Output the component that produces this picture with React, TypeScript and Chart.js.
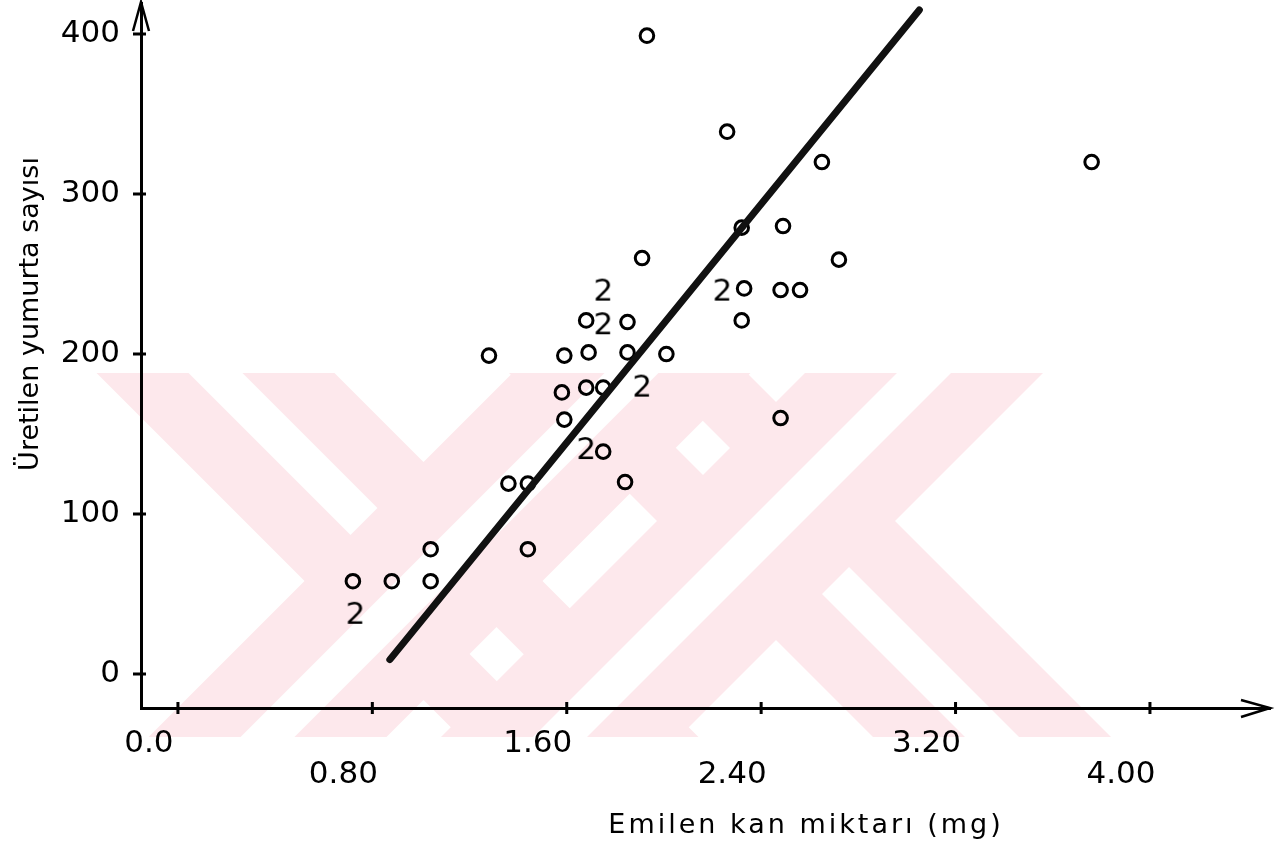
import React, { useEffect, useRef } from "react";
import { Chart, registerables } from "chart.js";

Chart.register(...registerables);

const FONT = "'DejaVu Sans', 'Noto Sans', sans-serif";

// axis ticks
const xTickValues = [0, 0.8, 1.6, 2.4, 3.2, 4.0];
const xTickLabels = ["0.0", "0.80", "1.60", "2.40", "3.20", "4.00"];
const yTickValues = [0, 100, 200, 300, 400];
const yTickLabels = ["0", "100", "200", "300", "400"];

// axis titles
const xTitle = "Emilen kan miktarı (mg)";
const yTitle = "Üretilen yumurta sayısı";

// single observations (drawn as open circles)
const singleX = [0.72, 0.88, 1.04, 1.04, 1.44, 1.36, 1.44, 1.84, 1.75, 1.59, 1.58, 1.68, 1.75, 1.28, 1.59, 1.69, 1.85, 2.01, 1.68, 1.85, 1.91, 1.93, 2.26, 2.65, 3.76, 2.32, 2.49, 2.72, 2.33, 2.48, 2.56, 2.32, 2.48];
const singleY = [58, 58, 78, 58, 78, 119, 119, 120, 139, 159, 176, 179, 179, 199, 199, 201, 201, 200, 221, 220, 260, 399, 339, 320, 320, 279, 280, 259, 241, 240, 240, 221, 160];

// double observations (drawn as the digit "2")
const doubleX = [0.73, 1.75, 1.75, 1.91, 1.68, 2.24];
const doubleY = [37, 239, 218, 179, 140, 239];

// fitted regression line end points
const fitX = [0.872, 3.051];
const fitY = [9, 415];

function makeTwoGlyph(): HTMLCanvasElement {
  const c = document.createElement("canvas");
  c.width = 26;
  c.height = 32;
  const g = c.getContext("2d")!;
  g.fillStyle = "#000";
  g.font = `31px ${FONT}`;
  g.textAlign = "center";
  g.textBaseline = "middle";
  g.fillText("2", 13, 17);
  return c;
}

// faint background watermark (two crossed double bands)
const watermarkPlugin = {
  id: "watermark",
  beforeDraw(chart: any) {
    const ctx = chart.ctx;
    const top = 373;
    const bot = 737;
    const centers = [
      [423.5, 581],
      [776, 521],
    ];
    const band = (cx: number, cy: number, k: number, h: number, color: string) => {
      const xt = cx + k * (top - cy);
      const xb = cx + k * (bot - cy);
      ctx.fillStyle = color;
      ctx.beginPath();
      ctx.moveTo(xt - h, top);
      ctx.lineTo(xt + h, top);
      ctx.lineTo(xb + h, bot);
      ctx.lineTo(xb - h, bot);
      ctx.closePath();
      ctx.fill();
    };
    ctx.save();
    ctx.beginPath();
    ctx.rect(0, top, chart.width, bot - top);
    ctx.clip();
    for (const k of [1, -1]) {
      for (const [cx, cy] of centers) {
        band(cx, cy, k, 119, "#fde8ec");
        band(cx, cy, k, 27, "#ffffff");
      }
    }
    ctx.restore();
  },
};

const decorPlugin = {
  id: "decor",
  afterDraw(chart: any) {
    const { ctx, chartArea: a, scales } = chart;
    const xs = scales.x;
    const ys = scales.y;
    ctx.save();
    ctx.strokeStyle = "#000";
    ctx.lineWidth = 3;
    ctx.beginPath();
    xTickValues.forEach((v) => {
      const p = xs.getPixelForValue(v);
      ctx.moveTo(p, a.bottom - 6);
      ctx.lineTo(p, a.bottom + 6);
    });
    yTickValues.forEach((v) => {
      const p = ys.getPixelForValue(v);
      ctx.moveTo(a.left - 8, p);
      ctx.lineTo(a.left + 5, p);
    });
    ctx.stroke();

    ctx.lineWidth = 2.5;
    ctx.lineJoin = "miter";
    ctx.beginPath();
    ctx.moveTo(a.left - 8, a.top + 28);
    ctx.lineTo(a.left, a.top - 1);
    ctx.lineTo(a.left + 8, a.top + 28);
    ctx.moveTo(a.right - 29, a.bottom - 8);
    ctx.lineTo(a.right, a.bottom);
    ctx.lineTo(a.right - 29, a.bottom + 9);
    ctx.stroke();

    ctx.fillStyle = "#000";
    ctx.textAlign = "center";
    ctx.textBaseline = "middle";
    ctx.font = `27px ${FONT}`;
    (ctx as any).letterSpacing = "3px";
    ctx.fillText(xTitle, 806, 826);
    (ctx as any).letterSpacing = "0px";
    ctx.translate(31, 314);
    ctx.rotate(-Math.PI / 2);
    ctx.fillText(yTitle, 0, 0);
    ctx.restore();
  },
};

export default function App() {
  const ref = useRef<HTMLCanvasElement | null>(null);

  useEffect(() => {
    if (!ref.current) return;
    const two = makeTwoGlyph();
    const singles = singleX.map((x, i) => ({ x, y: singleY[i] }));
    const doubles = doubleX.map((x, i) => ({ x, y: doubleY[i] }));
    const fit = fitX.map((x, i) => ({ x, y: fitY[i] }));

    const chart = new Chart(ref.current, {
      type: "scatter",
      data: {
        datasets: [
          {
            type: "line",
            label: "fit",
            data: fit,
            showLine: true,
            borderColor: "#111",
            borderWidth: 7,
            borderCapStyle: "round",
            pointRadius: 0,
            fill: false,
          } as any,
          {
            label: "single",
            data: singles,
            pointStyle: "circle",
            pointRadius: 6.8,
            borderWidth: 3,
            borderColor: "#000",
            backgroundColor: "rgba(0,0,0,0)",
          },
          {
            label: "double",
            data: doubles,
            pointStyle: two as any,
            pointRadius: 10,
          },
        ],
      },
      options: {
        animation: false,
        responsive: true,
        maintainAspectRatio: false,
        layout: { autoPadding: false, padding: { top: 3, right: 12, left: 0, bottom: 0 } },
        plugins: { legend: { display: false }, tooltip: { enabled: false } },
        scales: {
          x: {
            type: "linear",
            min: -0.152,
            max: 4.494,
            afterBuildTicks: (s: any) => {
              s.ticks = xTickValues.map((v) => ({ value: v }));
            },
            afterFit: (s: any) => {
              s.height = 142;
              s.paddingLeft = 0;
              s.paddingRight = 0;
            },
            ticks: {
              autoSkip: false,
              maxRotation: 0,
              minRotation: 0,
              labelOffset: -29,
              padding: 20,
              color: "#000",
              font: { family: FONT, size: 31, lineHeight: 1 },
              callback: (_v: any, i: number) =>
                i % 2 === 0 ? [xTickLabels[i]] : ["", xTickLabels[i]],
            },
            grid: { display: true, drawOnChartArea: false, drawTicks: false },
            border: { display: true, color: "#000", width: 3 },
          },
          y: {
            type: "linear",
            min: -21.25,
            max: 419.4,
            afterBuildTicks: (s: any) => {
              s.ticks = yTickValues.map((v) => ({ value: v }));
            },
            afterFit: (s: any) => {
              s.width = 141;
              s.paddingTop = 0;
              s.paddingBottom = 0;
            },
            ticks: {
              padding: 21,
              color: "#000",
              font: { family: FONT, size: 31, lineHeight: 1 },
              callback: (_v: any, i: number) => yTickLabels[i],
            },
            grid: { display: true, drawOnChartArea: false, drawTicks: false },
            border: { display: true, color: "#000", width: 3 },
          },
        },
      },
      plugins: [watermarkPlugin, decorPlugin],
    });
    return () => chart.destroy();
  }, []);

  return (
    <div style={{ position: "absolute", left: 0, top: 0, width: 1282, height: 850, background: "#fff" }}>
      <canvas ref={ref} />
    </div>
  );
}
